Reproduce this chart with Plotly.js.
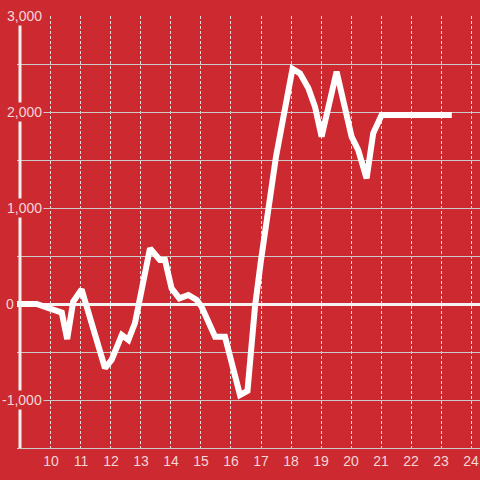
<!DOCTYPE html>
<html>
<head>
<meta charset="utf-8">
<script src="https://cdn.plot.ly/plotly-3.0.1.min.js"></script>
<style>html,body{margin:0;padding:0;background:#cc2a30;}#chart{width:480px;height:480px;}</style>
</head>
<body>
<div id="chart"></div>
<script>
// Data
var xValues = [8.87, 9.52, 10.36, 10.54, 10.74, 11.02, 11.8, 12.02, 12.36, 12.58, 12.8, 13.3, 13.63, 13.8, 14.02, 14.28, 14.58, 14.86, 15.02, 15.47, 15.8, 16.3, 16.55, 16.8, 17.0, 17.5, 18.05, 18.3, 18.58, 18.8, 19.02, 19.52, 20.02, 20.24, 20.52, 20.74, 21.02, 23.36];
var yValues = [0, 0, -90, -365, 24, 153, -667, -583, -323, -375, -198, 580, 458, 458, 163, 59, 94, 42, -28, -340, -340, -948, -905, -28, 458, 1535, 2450, 2403, 2247, 2055, 1743, 2420, 1743, 1604, 1309, 1778, 1969, 1969];
var xTickVals = [10, 11, 12, 13, 14, 15, 16, 17, 18, 19, 20, 21, 22, 23, 24];
var xTickText = ["10", "11", "12", "13", "14", "15", "16", "17", "18", "19", "20", "21", "22", "23", "24"];
var yTickVals = [3000, 2000, 1000, 0, -1000];
var yTickText = ["3,000", "2,000", "1,000", "0", "-1,000"];

var BG = '#cc2a30';
var LABEL = '#f5d5d6';
var W = 480, ML = 17, MR = 0;
var plotW = W - ML - MR;
function px2paper(p) { return (p - ML) / plotW; }

var annotations = yTickVals.map(function (v, i) {
  var isZero = v === 0;
  return {
    xref: 'paper', yref: 'y',
    x: px2paper(isZero ? 16 : 44), y: v,
    xanchor: 'right', yanchor: 'middle',
    text: yTickText[i], showarrow: false,
    bgcolor: isZero ? 'rgba(0,0,0,0)' : BG, borderpad: 1,
    font: {family: 'Liberation Sans, Arial, sans-serif', size: 14, color: LABEL}
  };
});

var trace = {
  x: xValues, y: yValues,
  type: 'scatter', mode: 'lines',
  line: {color: '#ffffff', width: 6},
  hoverinfo: 'skip'
};

var layout = {
  width: 480, height: 480,
  margin: {l: ML, r: MR, t: 16, b: 32, pad: 0},
  paper_bgcolor: BG, plot_bgcolor: BG,
  showlegend: false,
  font: {family: 'Liberation Sans, Arial, sans-serif', size: 14, color: LABEL},
  xaxis: {
    range: [8.867, 24.3],
    tickmode: 'array', tickvals: xTickVals, ticktext: xTickText,
    showgrid: true, gridcolor: '#e6dede', gridwidth: 1, griddash: '3px,2px',
    zeroline: false,
    showline: true, linecolor: '#cfcaca', linewidth: 1,
    ticks: '', tickfont: {size: 14, color: LABEL}
  },
  yaxis: {
    range: [-1500, 3000],
    tick0: 0, dtick: 500,
    showgrid: true, gridcolor: '#cfcaca', gridwidth: 1,
    zeroline: true, zerolinecolor: '#f7f2f2', zerolinewidth: 3,
    showline: false, showticklabels: false, ticks: ''
  },
  shapes: [{
    type: 'line', xref: 'paper', yref: 'y',
    x0: px2paper(20), x1: px2paper(20), y0: -1500, y1: 3000,
    line: {color: '#f4f0f0', width: 3}, layer: 'above'
  }],
  annotations: annotations
};

Plotly.newPlot('chart', [trace], layout, {displayModeBar: false, staticPlot: true});
</script>
</body>
</html>
